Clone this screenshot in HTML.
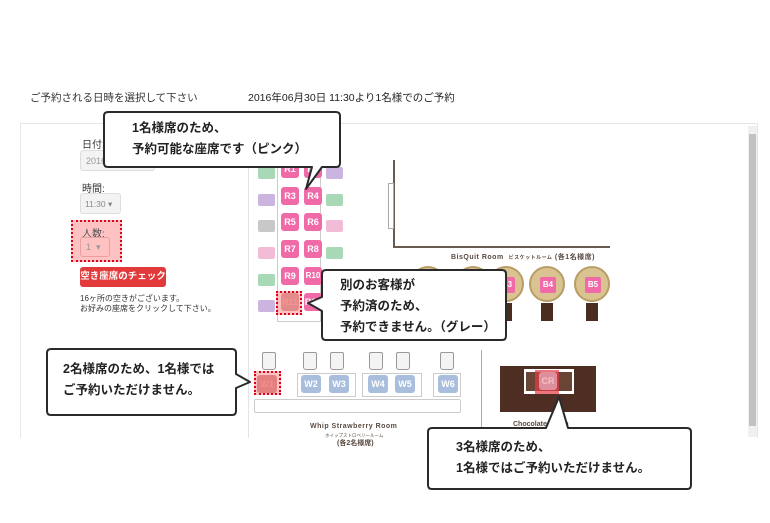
<!DOCTYPE html>
<html><head><meta charset="utf-8"><style>
*{margin:0;padding:0;box-sizing:border-box}
body{width:770px;height:523px;background:#fff;position:relative;overflow:hidden;font-family:"Liberation Sans","Noto Sans CJK JP",sans-serif;color:#333}
.a{position:absolute}
.t{font-size:10px;white-space:nowrap}
.seat{position:absolute;width:18px;height:18px;background:#f06aa8;border-radius:3px;color:#fff;font-size:9px;font-weight:bold;text-align:center;line-height:18px}
.ws{position:absolute;width:20px;height:18px;background:#a9bedc;border-radius:3px;color:#fff;font-size:9px;font-weight:bold;text-align:center;line-height:18px}
.ch{position:absolute;width:17px;height:12px;border-radius:2px}
.st{position:absolute;width:14px;height:18px;border:1px solid #999;background:#f4f4f4;border-radius:2px 2px 3px 3px}
.call{position:absolute;font-weight:bold;font-size:12.5px;color:#222;line-height:21px;white-space:nowrap}
.red{border:2px dotted #e0001a;background:rgba(255,120,120,.45)}
.ck{position:absolute;width:36px;height:36px;border-radius:50%;background:#d9c391;border:2px solid #b89d64}
.ck i{position:absolute;left:9px;top:9px;width:16px;height:16px;background:#f06aa8;border-radius:2px;color:#fff;font-size:8px;font-style:normal;font-weight:bold;text-align:center;line-height:16px}
.leg{position:absolute;width:12px;height:18px;background:#4a2c20}
</style></head><body>
<div class="a t" style="left:30px;top:90px;font-size:10.5px">ご予約される日時を選択して下さい</div>
<div class="a t" style="left:248px;top:90px;font-size:10.5px;color:#222">2016年06月30日 11:30より1名様でのご予約</div>

<div class="a" style="left:20px;top:123px;width:738px;height:315px;border:1px solid #e6e6e6;border-bottom:none"></div>
<div class="a" style="left:748px;top:126px;width:9px;height:311px;background:#f0f0f0"></div>
<div class="a" style="left:749px;top:134px;width:7px;height:292px;background:#c2c2c2"></div>
<div class="a" style="left:248px;top:124px;width:1px;height:314px;background:#e4e4e4"></div>

<div class="a t" style="left:82px;top:136px">日付:</div>
<div class="a" style="left:80px;top:150px;width:75px;height:21px;border:1px solid #ddd;background:#f3f3f3;border-radius:3px;font-size:9px;color:#999;padding:5px 5px">2016</div>
<div class="a t" style="left:82px;top:180px">時間:</div>
<div class="a t" style="left:80px;top:193px;width:41px;height:21px;border:1px solid #ddd;background:#f3f3f3;border-radius:3px;font-size:8.5px;color:#888;padding:5px 4px">11:30 ▾</div>
<div class="a red" style="left:71px;top:220px;width:51px;height:42px"></div>
<div class="a t" style="left:82px;top:225px;color:#555">人数:</div>
<div class="a t" style="left:80px;top:237px;width:30px;height:20px;border:1px solid #e9a0a0;border-radius:3px;font-size:9px;color:#999;padding:4px 5px">1 &nbsp;▾</div>
<div class="a" style="left:80px;top:267px;width:86px;height:20px;background:#e23a3a;border-radius:3px;color:#fff;font-size:9.5px;font-weight:bold;text-align:center;line-height:20px">空き座席のチェック</div>
<div class="a t" style="left:80px;top:294px;font-size:8px;line-height:10px">16ヶ所の空きがございます。<br>お好みの座席をクリックして下さい。</div>

<div class="a" style="left:277px;top:162px;width:44px;height:160px;border:1px solid #ccc;border-top:none"></div>
<div class="ch" style="left:258px;top:167px;background:#a9d8b6"></div>
<div class="ch" style="left:258px;top:194px;background:#cbb4e0"></div>
<div class="ch" style="left:258px;top:220px;background:#c8c8c8"></div>
<div class="ch" style="left:258px;top:247px;background:#f3bcd6"></div>
<div class="ch" style="left:258px;top:274px;background:#a9d8b6"></div>
<div class="ch" style="left:258px;top:300px;background:#cbb4e0"></div>
<div class="ch" style="left:326px;top:167px;background:#cbb4e0"></div>
<div class="ch" style="left:326px;top:194px;background:#a9d8b6"></div>
<div class="ch" style="left:326px;top:220px;background:#f3bcd6"></div>
<div class="ch" style="left:326px;top:247px;background:#a9d8b6"></div>
<div class="seat" style="left:281px;top:160px">R1</div><div class="seat" style="left:304px;top:160px">R2</div>
<div class="seat" style="left:281px;top:187px">R3</div><div class="seat" style="left:304px;top:187px">R4</div>
<div class="seat" style="left:281px;top:213px">R5</div><div class="seat" style="left:304px;top:213px">R6</div>
<div class="seat" style="left:281px;top:240px">R7</div><div class="seat" style="left:304px;top:240px">R8</div>
<div class="seat" style="left:281px;top:267px">R9</div><div class="seat" style="left:304px;top:267px;font-size:8px">R10</div>
<div class="seat" style="left:281px;top:293px;background:#c99;color:#eaa">R11</div><div class="seat" style="left:304px;top:293px">R12</div>
<div class="a red" style="left:276px;top:291px;width:26px;height:24px"></div>

<div class="a" style="left:393px;top:160px;width:2px;height:88px;background:#6b5a50"></div>
<div class="a" style="left:393px;top:246px;width:217px;height:2px;background:#6b5a50"></div>
<div class="a" style="left:388px;top:183px;width:6px;height:46px;border:1px solid #aaa"></div>
<div class="a t" style="left:451px;top:252px;font-size:7px;font-weight:bold;color:#5a4a40;letter-spacing:.5px">BisQuit Room &nbsp;<span style="font-size:5px">ビスケットルーム</span> (各1名様席)</div>
<div class="ck" style="left:410px;top:266px"></div><div class="ck" style="left:455px;top:266px"></div>
<div class="ck" style="left:488px;top:266px"><i>B3</i></div>
<div class="ck" style="left:529px;top:266px"><i>B4</i></div>
<div class="ck" style="left:574px;top:266px"><i>B5</i></div>
<div class="leg" style="left:413px;top:303px"></div><div class="leg" style="left:459px;top:303px"></div>
<div class="leg" style="left:500px;top:303px"></div><div class="leg" style="left:541px;top:303px"></div><div class="leg" style="left:586px;top:303px"></div>

<div class="st" style="left:262px;top:352px"></div><div class="st" style="left:303px;top:352px"></div><div class="st" style="left:330px;top:352px"></div>
<div class="st" style="left:369px;top:352px"></div><div class="st" style="left:396px;top:352px"></div><div class="st" style="left:440px;top:352px"></div>
<div class="a" style="left:297px;top:373px;width:59px;height:24px;border:1px solid #ccc"></div>
<div class="a" style="left:362px;top:373px;width:60px;height:24px;border:1px solid #ccc"></div>
<div class="a" style="left:433px;top:373px;width:28px;height:24px;border:1px solid #ccc"></div>
<div class="ws" style="left:257px;top:375px;background:#c88;color:#e9a">W1</div>
<div class="ws" style="left:301px;top:375px">W2</div><div class="ws" style="left:329px;top:375px">W3</div>
<div class="ws" style="left:368px;top:375px">W4</div><div class="ws" style="left:395px;top:375px">W5</div>
<div class="ws" style="left:438px;top:375px">W6</div>
<div class="a red" style="left:254px;top:371px;width:27px;height:24px"></div>
<div class="a" style="left:254px;top:399px;width:207px;height:14px;border:1px solid #ccc;border-radius:2px"></div>
<div class="a t" style="left:310px;top:423px;font-size:7px;font-weight:bold;color:#5a4a40;letter-spacing:.5px">Whip Strawberry Room</div>
<div class="a t" style="left:325px;top:433px;font-size:4.5px;color:#5a4a40">ホイップストロベリールーム</div>
<div class="a t" style="left:337px;top:438px;font-size:7px;font-weight:bold;color:#5a4a40">(各2名様席)</div>
<div class="a" style="left:481px;top:350px;width:1px;height:88px;background:#aaa"></div>

<div class="a" style="left:500px;top:366px;width:96px;height:46px;background:#4e2e22"></div>
<div class="a" style="left:524px;top:369px;width:50px;height:25px;background:#fff"></div>
<div class="a" style="left:526px;top:372px;width:46px;height:19px;background:#6a4434"></div>
<div class="a" style="left:535px;top:370px;width:24px;height:24px;background:rgba(230,60,70,.7)"></div>
<div class="seat" style="left:539px;top:372px;background:#dd8f9b;color:#f2c0c8">CR</div>
<div class="a t" style="left:513px;top:421px;font-size:7px;font-weight:bold;color:#5a4a40">Chocolate Room</div>

<svg class="a" style="left:0;top:0" width="770" height="523">
<g fill="#fff" stroke="#2a2a2a" stroke-width="2" stroke-linejoin="round">
<path d="M108 112 H336 Q340 112 340 116 V163 Q340 167 336 167 H322 L306 189 L312 167 H108 Q104 167 104 163 V116 Q104 112 108 112Z"/>
<path d="M326 270 H502 Q506 270 506 274 V336 Q506 340 502 340 H326 Q322 340 322 336 V311 L308 303 L322 297 V274 Q322 270 326 270Z"/>
<path d="M51 349 H232 Q236 349 236 353 V374 L250 382 L236 388 V411 Q236 415 232 415 H51 Q47 415 47 411 V353 Q47 349 51 349Z"/>
<path d="M432 428 H546 L559 397 L568 428 H687 Q691 428 691 432 V485 Q691 489 687 489 H432 Q428 489 428 485 V432 Q428 428 432 428Z"/>
</g></svg>
<div class="call" style="left:132px;top:118px">1名様席のため、<br>予約可能な座席です（ピンク）</div>
<div class="call" style="left:340px;top:275px">別のお客様が<br>予約済のため、<br>予約できません。（グレー）</div>
<div class="call" style="left:63px;top:359px">2名様席のため、1名様では<br>ご予約いただけません。</div>
<div class="call" style="left:456px;top:437px">3名様席のため、<br>1名様ではご予約いただけません。</div>
</body></html>
